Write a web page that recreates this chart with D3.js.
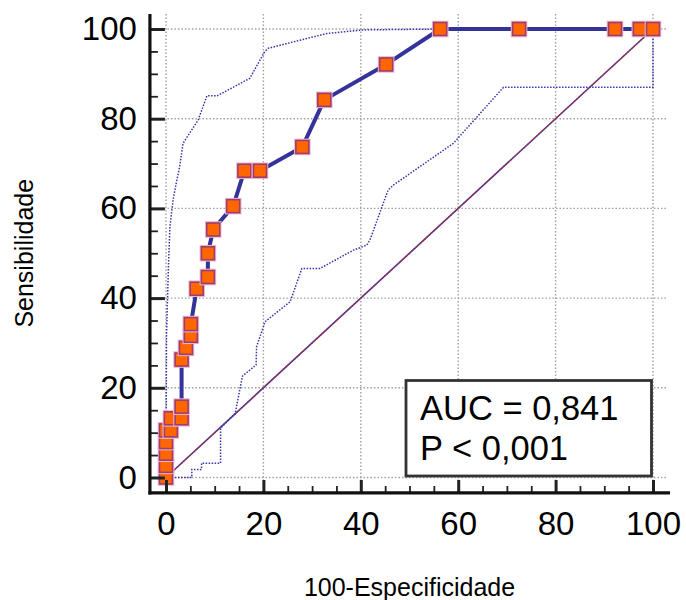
<!DOCTYPE html>
<html>
<head>
<meta charset="utf-8">
<script src="https://cdn.jsdelivr.net/npm/d3@7"></script>
<style>
  body { margin: 0; background: #fff; }
  svg { display: block; font-family: "Liberation Sans", Arial, sans-serif; }
</style>
</head>
<body>
<svg id="chart" width="686" height="600"></svg>
<script>
// ROC points (100-specificity, sensitivity)
const rocX = [0, 0, 0, 0, 0, 1.0, 1.0, 3.2, 3.2, 3.2, 4.1, 5.1, 5.1, 6.3, 8.6, 8.6, 9.7, 13.8, 16.1, 19.3, 28.0, 32.5, 45.2, 56.3, 72.5, 92.2, 97.3, 100];
const rocY = [0, 2.6, 5.3, 7.9, 10.5, 10.5, 13.2, 13.2, 15.8, 26.3, 28.9, 31.6, 34.2, 42.1, 44.7, 50.0, 55.3, 60.5, 68.4, 68.4, 73.7, 84.2, 92.1, 100, 100, 100, 100, 100];

// confidence bounds (dotted)
const upperX = [0, 0.1, 0.5, 0.8, 1.5, 2.1, 2.8, 3.5, 6.6, 8.4, 10.5, 17.2, 20.3, 21.0, 27.5, 33.0, 40.5, 56.3, 100];
const upperY = [0, 31.8, 47.0, 55.9, 62.2, 65.6, 69.3, 74.5, 79.7, 85.1, 85.1, 89.0, 95.0, 95.7, 97.5, 99.0, 99.8, 100, 100];
const lowerX = [0, 5.3, 5.3, 7.3, 7.3, 11.2, 11.2, 14.2, 14.6, 15.7, 18.5, 18.6, 20.0, 20.3, 25.5, 27.9, 31.6, 38.5, 41.2, 41.9, 45.6, 46.7, 59.0, 69.3, 100, 100];
const lowerY = [0, 0, 1.8, 1.8, 3.2, 3.2, 11.0, 14.3, 16.5, 22.6, 25.1, 29.2, 33.6, 34.7, 39.2, 46.6, 46.6, 50.7, 51.8, 53.0, 64.1, 65.2, 74.5, 87.0, 87.0, 100];

const majorTicks = [0, 20, 40, 60, 80, 100];
const minorTicks = d3.range(0, 101, 5).filter(v => v % 20 !== 0);
const statLines = ["AUC = 0,841", "P < 0,001"];
const xTitle = "100-Especificidade";
const yTitle = "Sensibilidade";

const svg = d3.select("#chart");
const xLim = [-3.3, 103.5];
const yLim = [-3.45, 103.35];
const x = d3.scaleLinear().domain([0, 100]).range([166, 653]);
const y = d3.scaleLinear().domain([0, 100]).range([477.5, 29]);

const plotLeft = x(xLim[0]), plotRight = x(xLim[1]);
const plotTop = y(yLim[1]), plotBottom = y(yLim[0]);

// grid
const grid = svg.append("g")
    .attr("stroke", "#a0a0a0")
    .attr("stroke-width", 1.4)
    .attr("stroke-dasharray", "1.5,2");
grid.selectAll(".gx").data(majorTicks).enter().append("line")
    .attr("x1", d => x(d)).attr("x2", d => x(d))
    .attr("y1", plotTop).attr("y2", plotBottom);
grid.selectAll(".gy").data(majorTicks).enter().append("line")
    .attr("x1", plotLeft).attr("x2", x(102.8))
    .attr("y1", d => y(d)).attr("y2", d => y(d));

// reference diagonal
svg.append("line")
    .attr("x1", x(0)).attr("y1", y(0)).attr("x2", x(100)).attr("y2", y(100))
    .attr("stroke", "#3a3aa0").attr("stroke-width", 1.6);
svg.append("line")
    .attr("x1", x(0)).attr("y1", y(0)).attr("x2", x(100)).attr("y2", y(100))
    .attr("stroke", "#cc2020").attr("stroke-width", 1.2).attr("stroke-dasharray", "1.5,1.5");

const line = d3.line().x(d => x(d[0])).y(d => y(d[1]));

// confidence bands
[[upperX, upperY], [lowerX, lowerY]].forEach(([xs, ys]) => {
    svg.append("path")
        .datum(xs.map((v, i) => [v, ys[i]]))
        .attr("d", line)
        .attr("fill", "none")
        .attr("stroke", "#3535a8")
        .attr("stroke-width", 1.5)
        .attr("stroke-dasharray", "1.5,1.5");
});

// ROC curve
const rocPts = rocX.map((v, i) => [v, rocY[i]]);
svg.append("path")
    .datum(rocPts)
    .attr("d", line)
    .attr("fill", "none")
    .attr("stroke", "#333399")
    .attr("stroke-width", 4)
    .attr("stroke-linejoin", "round");

const m = 13;
const markers = svg.append("g").selectAll("g")
    .data(rocPts)
    .enter().append("g")
    .attr("transform", d => `translate(${x(d[0])},${y(d[1])})`);
markers.append("rect")
    .attr("x", -m / 2).attr("y", -m / 2)
    .attr("width", m).attr("height", m)
    .attr("fill", "none")
    .attr("stroke", "#eab8cf")
    .attr("stroke-width", 3.6);
markers.append("rect")
    .attr("x", -m / 2).attr("y", -m / 2)
    .attr("width", m).attr("height", m)
    .attr("fill", "#ff6600")
    .attr("stroke", "#a03c6e")
    .attr("stroke-width", 1.6);

// stats box
const box = svg.append("g");
box.append("rect")
    .attr("x", 406).attr("y", 380.5)
    .attr("width", 245.5).attr("height", 95.5)
    .attr("fill", "#fff")
    .attr("stroke", "#333")
    .attr("stroke-width", 2.8);
box.selectAll("text").data(statLines).enter().append("text")
    .attr("x", 420)
    .attr("y", (d, i) => 420 + i * 39.5)
    .attr("font-size", 34.5)
    .attr("fill", "#000")
    .text(d => d);

// axes
const yMinor = d3.axisLeft(y).tickValues(minorTicks).tickSize(-8).tickFormat("");
const yMajor = d3.axisLeft(y).tickValues(majorTicks).tickSize(-15).tickPadding(13);
const xMinor = d3.axisBottom(x).tickValues(minorTicks).tickSize(-7).tickFormat("");
const xMajor = d3.axisBottom(x).tickValues(majorTicks).tickSize(-13).tickPadding(18.5);

const gy1 = svg.append("g").attr("transform", `translate(${plotLeft},0)`).call(yMinor);
const gy2 = svg.append("g").attr("transform", `translate(${plotLeft},0)`).call(yMajor);
const gx1 = svg.append("g").attr("transform", `translate(0,${plotBottom})`).call(xMinor);
const gx2 = svg.append("g").attr("transform", `translate(0,${plotBottom})`).call(xMajor);
[gy1, gy2, gx1, gx2].forEach(g => g.select(".domain").remove());
[gy1, gx1].forEach(g => g.selectAll(".tick line").attr("stroke", "#222").attr("stroke-width", 1.8));
[gy2, gx2].forEach(g => {
    g.selectAll(".tick line").attr("stroke", "#222").attr("stroke-width", 3);
    g.selectAll(".tick text")
        .attr("font-size", 33)
        .attr("font-family", "'Liberation Sans', Arial, sans-serif")
        .attr("fill", "#000");
});

svg.append("line")
    .attr("x1", plotLeft).attr("x2", plotLeft)
    .attr("y1", plotTop).attr("y2", plotBottom + 1.5)
    .attr("stroke", "#111").attr("stroke-width", 3.2);
svg.append("line")
    .attr("x1", plotLeft - 1.5).attr("x2", plotRight)
    .attr("y1", plotBottom).attr("y2", plotBottom)
    .attr("stroke", "#111").attr("stroke-width", 3.2);

// titles
svg.append("text")
    .attr("x", (x(0) + x(100)) / 2)
    .attr("y", 596)
    .attr("text-anchor", "middle")
    .attr("font-size", 25)
    .text(xTitle);
svg.append("text")
    .attr("transform", `translate(33,${(y(0) + y(100)) / 2}) rotate(-90)`)
    .attr("text-anchor", "middle")
    .attr("font-size", 25)
    .text(yTitle);
</script>
</body>
</html>
